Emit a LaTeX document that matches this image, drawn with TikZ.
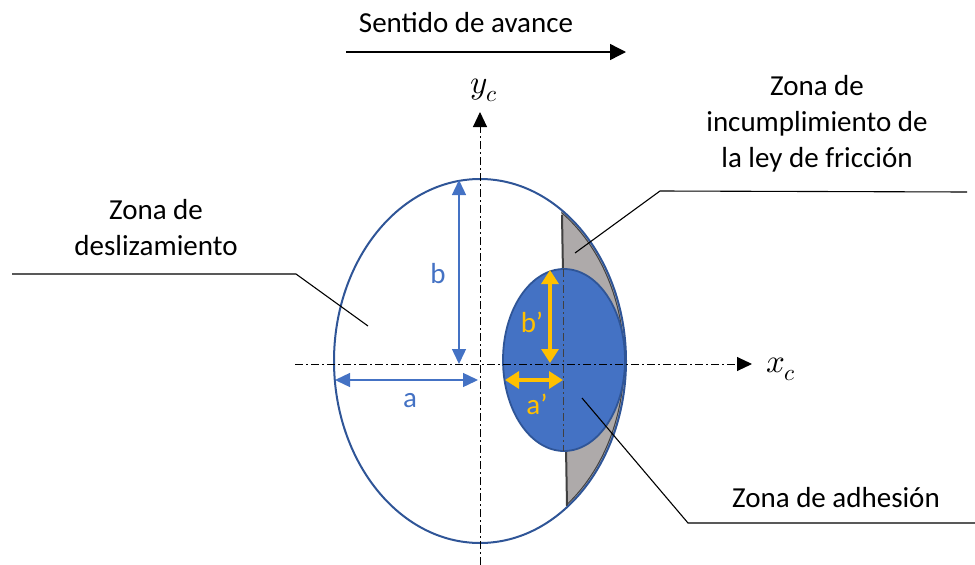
\documentclass[tikz,border=0pt]{standalone}
\usepackage{fontspec}
\usepackage{unicode-math}
\setmainfont{Carlito}
\setmathfont{Latin Modern Math}
\usetikzlibrary{arrows.meta}
\definecolor{ringblue}{HTML}{2F5597}
\definecolor{dimblue}{HTML}{4472C4}
\definecolor{dimyellow}{HTML}{FFC000}
\definecolor{slipgray}{HTML}{AEAAAA}
\definecolor{edgegray}{HTML}{404040}
\newcommand{\bigfont}{\fontsize{29}{36}\selectfont}
\newcommand{\axfont}{\fontsize{33}{36}\selectfont}
\tikzset{
  lbl/.style={font=\bigfont, inner sep=0pt, align=center},
  axlbl/.style={font=\axfont, inner sep=0pt},
  axisline/.style={line width=1pt, dash pattern=on 8pt off 3pt on 2pt off 3pt,
    -{Triangle[length=15pt,width=14pt]}},
  leader/.style={line width=1.1pt},
  dimb/.style={draw=dimblue, line width=1.4pt,
    {Triangle[length=15pt,width=14pt]}-{Triangle[length=15pt,width=14pt]}},
  dimy/.style={draw=dimyellow, line width=3.2pt,
    {Triangle[length=14pt,width=17pt]}-{Triangle[length=14pt,width=17pt]}}
}
\begin{document}
\begin{tikzpicture}[x=1pt, y=-1pt]
  \useasboundingbox (0,0) rectangle (975,565);
  % Direction of travel
  \node[lbl] (avance) at (466,23) {Sentido de avance};
  \coordinate (avS) at (346,52);
  \coordinate (avE) at (626,52);
  \draw[line width=1.4pt, -{Triangle[length=16pt,width=16pt]}] (avS) -- (avE);
  % Zone that breaks the friction law (gray crescent)
  \begin{scope}
    \clip (561,195) -- (567,525) -- (700,525) -- (700,195) -- cycle;
    \fill[slipgray] (480,361) ellipse [x radius=146, y radius=182];
    \draw[edgegray, line width=1pt] (480,361) ellipse [x radius=144, y radius=180];
  \end{scope}
  \draw[edgegray, line width=2pt] (562,215) -- (567,506);
  % Contact ellipse
  \draw[ringblue, line width=2pt] (480,361) ellipse [x radius=146, y radius=182];
  % Adhesion zone
  \fill[dimblue, draw=ringblue, line width=1.8pt] (564,360) ellipse [x radius=61, y radius=91];
  \draw[edgegray, line width=0.8pt, dash pattern=on 8pt off 3pt on 2pt off 3pt] (563,269) -- (563,451);
  % Axes
  \coordinate (yB) at (480,565);
  \coordinate (yT) at (480,112);
  \draw[axisline] (yB) -- (yT);
  \node[axlbl] (yc) at (484,90) {$y_c$};
  \coordinate (xL) at (295,364);
  \coordinate (xR) at (752,364);
  \draw[axisline] (xL) -- (xR);
  \node[axlbl] (xc) at (781,369) {$x_c$};
  % Semi-axes a, b
  \coordinate (aL) at (335,380);
  \coordinate (aR) at (478,380);
  \draw[dimb] (aL) -- (aR);
  \node[lbl, text=dimblue] (la) at (410,401) {a};
  \coordinate (bT) at (459,180);
  \coordinate (bB) at (459,364);
  \draw[dimb] (bT) -- (bB);
  \node[lbl, text=dimblue] (lb) at (438,274) {b};
  % Semi-axes a', b'
  \coordinate (bpT) at (550,270);
  \coordinate (bpB) at (550,363);
  \draw[dimy] (bpT) -- (bpB);
  \node[lbl, text=dimyellow] (lbp) at (532,322) {b’};
  \coordinate (apL) at (505,380);
  \coordinate (apR) at (563,380);
  \draw[dimy] (apL) -- (apR);
  \node[lbl, text=dimyellow] (lap) at (537,404) {a’};
  % Labels and leaders
  \node[lbl] (friccion) at (817,124) {Zona de\\incumplimiento de\\la ley de fricción};
  \coordinate (fr1) at (575,253);
  \coordinate (fr2) at (660,191);
  \coordinate (fr3) at (967,192);
  \draw[leader] (fr1) -- (fr2) -- (fr3);
  \node[lbl] (desliz) at (156,228) {Zona de\\deslizamiento};
  \coordinate (de1) at (368,326);
  \coordinate (de2) at (296,274);
  \coordinate (de3) at (12,274);
  \draw[leader] (de1) -- (de2) -- (de3);
  \node[lbl] (adhesion) at (836,498) {Zona de adhesión};
  \coordinate (ad1) at (582,398);
  \coordinate (ad2) at (688,523);
  \coordinate (ad3) at (975,523);
  \draw[leader] (ad1) -- (ad2) -- (ad3);
\end{tikzpicture}
\end{document}
